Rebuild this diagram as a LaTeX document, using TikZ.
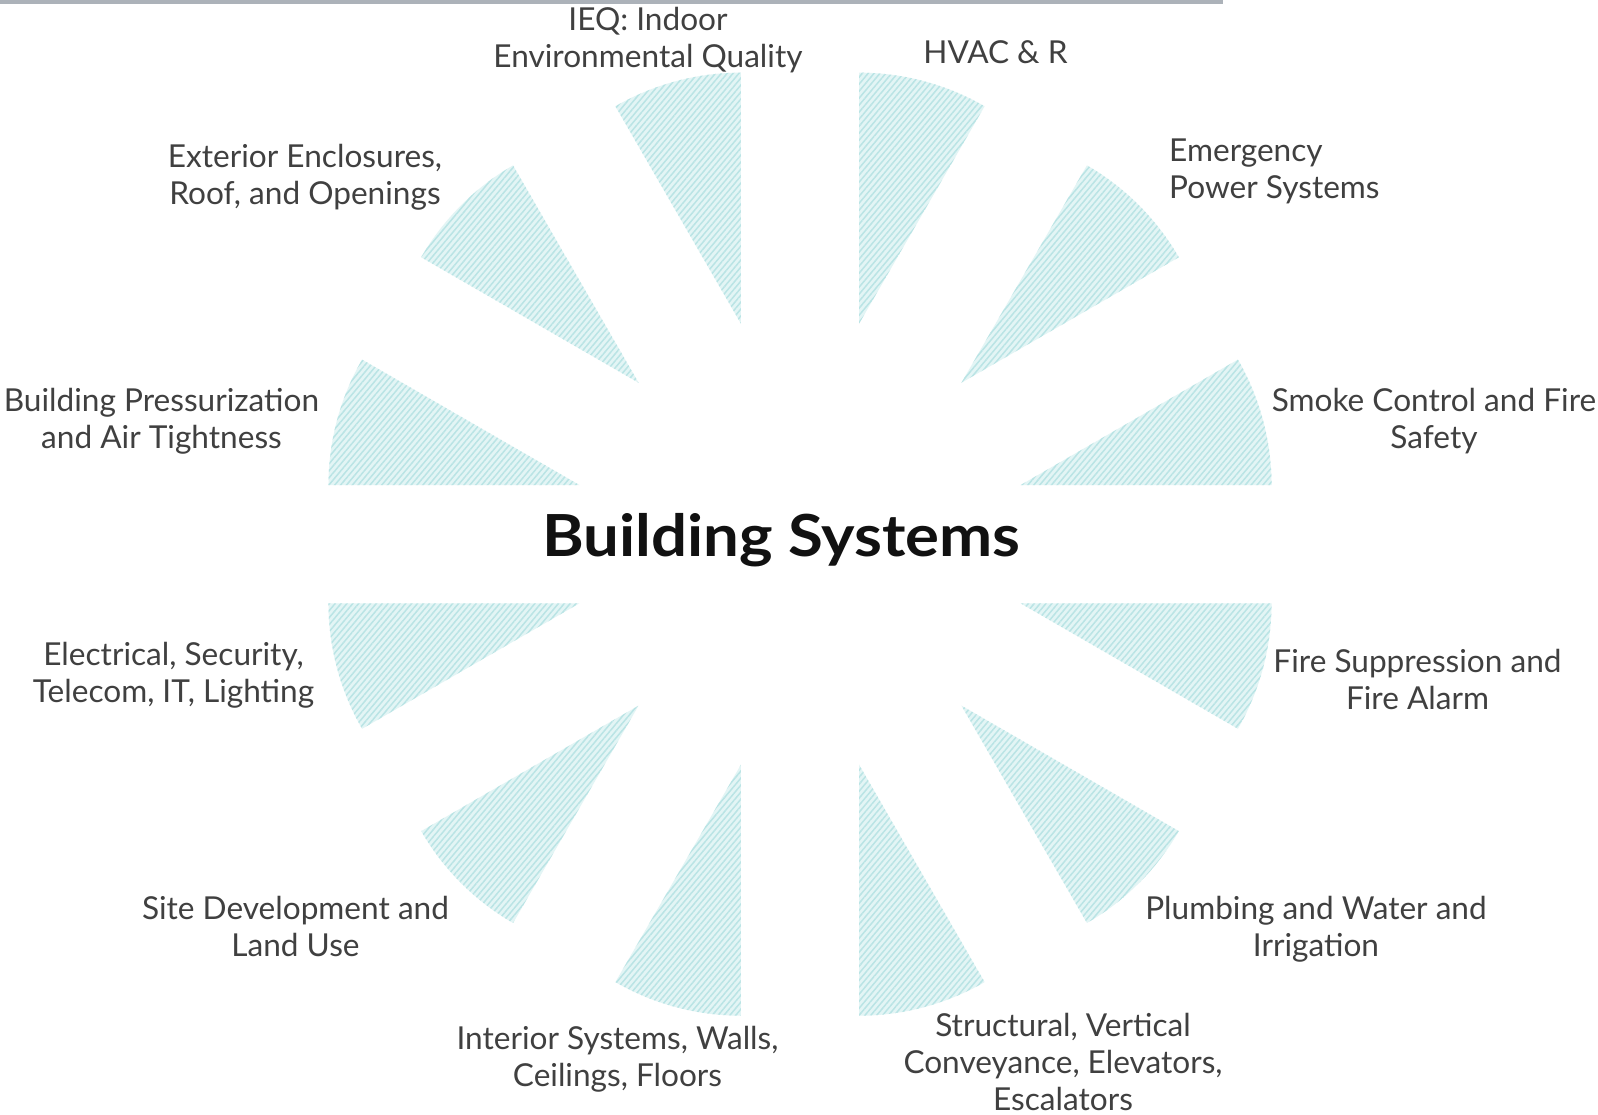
\documentclass[tikz,border=0pt]{standalone}
\usepackage{fontspec}
\setmainfont{Lato}
\usetikzlibrary{calc,patterns.meta}
\definecolor{txt}{RGB}{64,64,64}
\definecolor{wedgefill}{RGB}{227,245,245}
\definecolor{wedgeline}{RGB}{186,228,229}
\definecolor{topbar}{RGB}{172,178,185}
\tikzset{
  lbl/.style={font=\fontsize{31.6}{36.7}\selectfont, text=txt, align=center, inner sep=0pt, anchor=base},
  wedge/.style={fill=wedgefill, postaction={pattern={Lines[angle=50,distance=4.5pt,line width=1.5pt]}, pattern color=wedgeline}},
}
\begin{document}
\begin{tikzpicture}[x=1pt,y=1pt]
\useasboundingbox (0,0) rectangle (1598,1115);
\fill[white] (0,0) rectangle (1598,1115);
\fill[topbar] (0,1111) rectangle (1223,1115);
\coordinate (C) at (800,570.8);
\foreach \k in {0,...,11}{
  \pgfmathsetmacro\a{30*\k}
  \pgfmathsetmacro\b{30*\k+30}
  \pgfmathsetmacro\m{30*\k+15}
  \path[wedge] ($(C)+(\m:228.3pt)$) -- ++(\a:251pt) arc[start angle=\a, end angle=\b, radius=251pt] -- cycle;
}
\node[font=\fontsize{58}{64}\selectfont\bfseries\addfontfeature{FakeStretch=1.095}, text={rgb,255:red,17;green,17;blue,17}, inner sep=0pt, anchor=base] (title) at (781.5,558.3) {Building Systems};
\node[lbl] (ieq) at (648,1047.3) {IEQ: Indoor\\Environmental Quality};
\node[lbl] (hvac) at (995.5,1051.7) {HVAC \& R};
\node[lbl, anchor=base west, align=left] (emerg) at (1169,916.6) {Emergency\\Power Systems};
\node[lbl] (smoke) at (1434,666.8) {Smoke Control and Fire\\Safety};
\node[lbl] (fires) at (1417.5,405.3) {Fire Suppression and\\Fire Alarm};
\node[lbl] (plumb) at (1316,158.3) {Plumbing and Water and\\Irrigation};
\node[lbl] (struct) at (1063,4.6) {Structural, Vertical\\Conveyance, Elevators,\\Escalators};
\node[lbl] (inter) at (617.5,28.3) {Interior Systems, Walls,\\Ceilings, Floors};
\node[lbl] (site) at (295.5,158.3) {Site Development and\\Land Use};
\node[lbl] (elec) at (173.5,412.3) {Electrical, Security,\\Telecom, IT, Lighting};
\node[lbl] (press) at (161.5,666.6) {Building Pressurization\\and Air Tightness};
\node[lbl] (exter) at (305,910.3) {Exterior Enclosures,\\Roof, and Openings};
\end{tikzpicture}
\end{document}
